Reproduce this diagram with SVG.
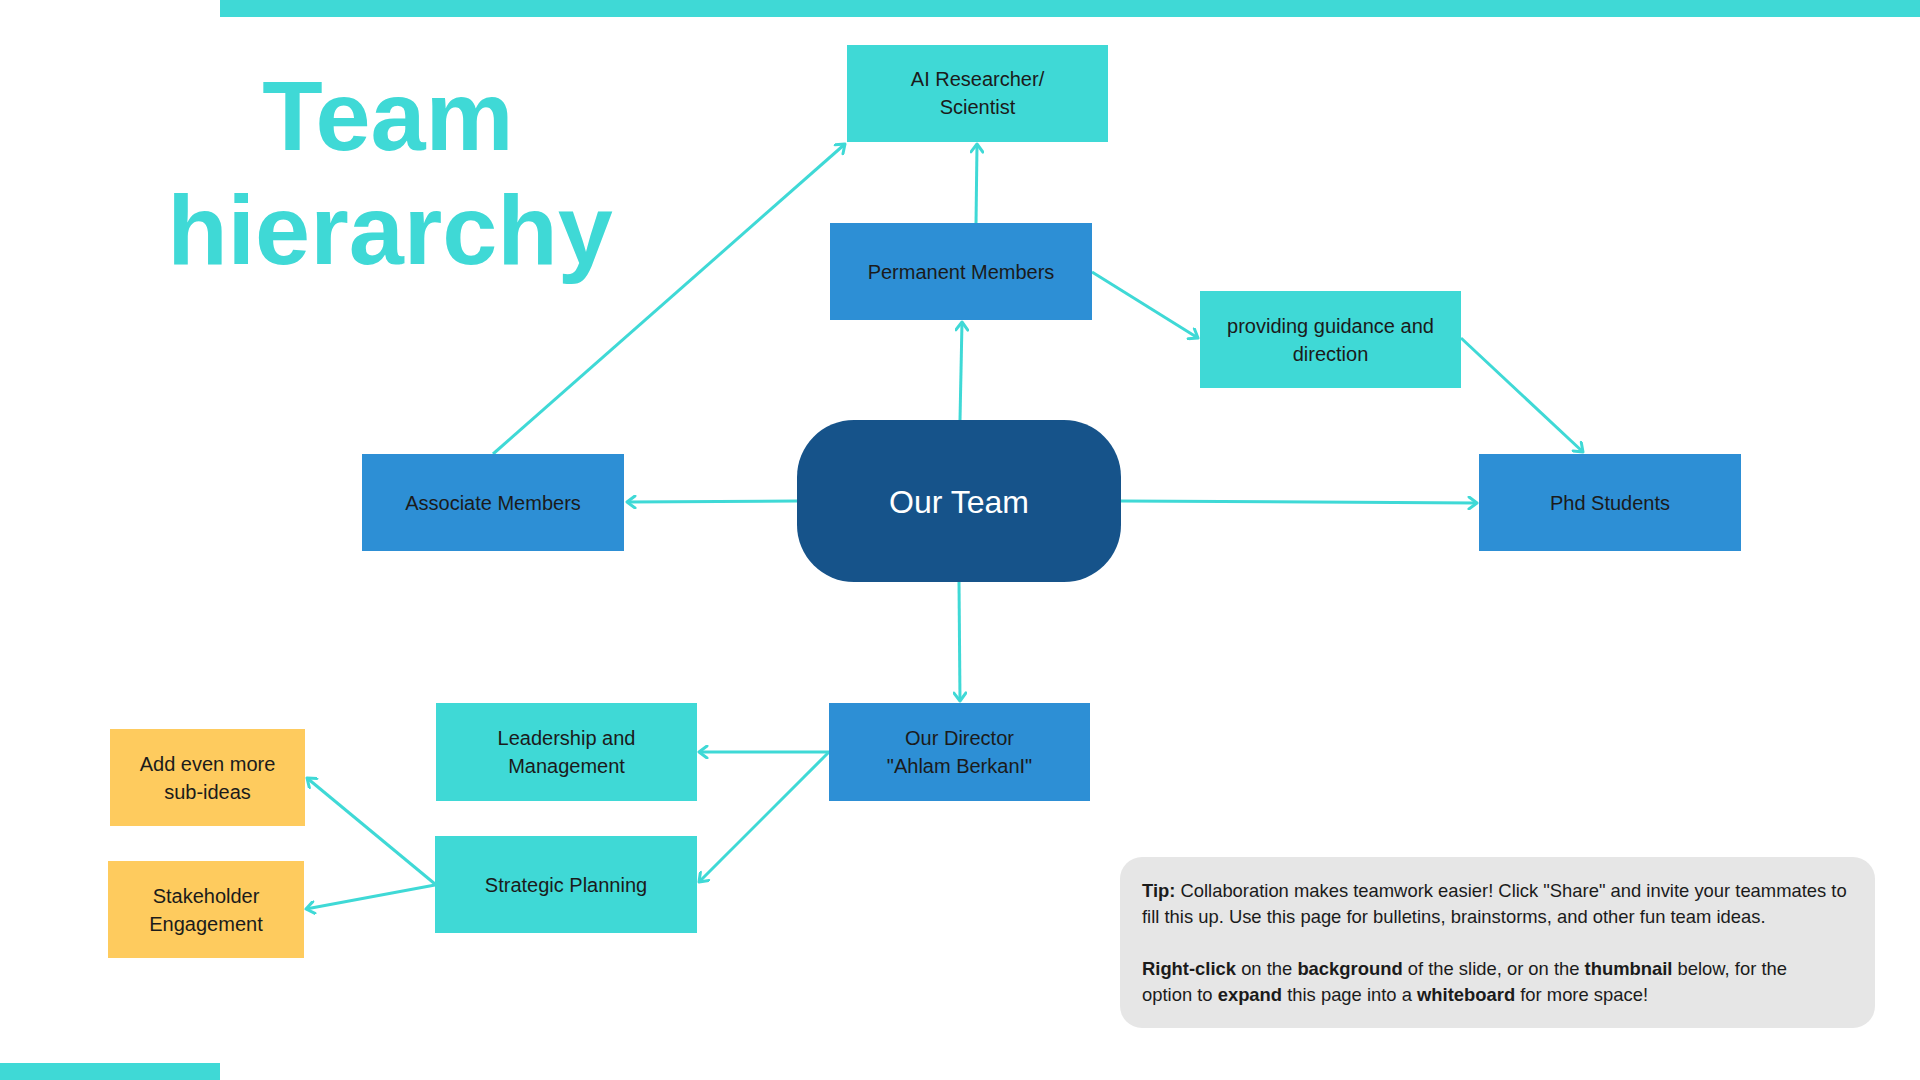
<svg xmlns="http://www.w3.org/2000/svg" width="1920" height="1080" viewBox="0 0 1920 1080">
  <defs>
    <style>
      .bg { fill: #ffffff; }
      .bar { fill: #3FD9D6; }
      .title { font-family: "Liberation Sans", Arial, sans-serif; font-weight: bold; font-size: 99px; fill: #3FD9D6; text-anchor: middle; }
      .teal { fill: #3FD9D6; }
      .blue { fill: #2D8FD5; }
      .navy { fill: #16538A; }
      .yellow { fill: #FECB5E; }
      .tipbox { fill: #E6E6E6; }
      .lbl { font-family: "Liberation Sans", Arial, sans-serif; font-size: 20px; fill: #1B1B1B; text-anchor: middle; }
      .big { font-family: "Liberation Sans", Arial, sans-serif; font-size: 32px; fill: #ffffff; text-anchor: middle; }
      .tip { font-family: "Liberation Sans", Arial, sans-serif; font-size: 18.4px; fill: #1B1B1B; }
      .b { font-weight: bold; }
      .conn { stroke: #3FD9D6; stroke-width: 3; fill: none; marker-end: url(#arrow); }
    </style>
    <marker id="arrow" markerUnits="userSpaceOnUse" viewBox="0 0 12 14" markerWidth="12" markerHeight="14" refX="10" refY="7" orient="auto">
      <path d="M2,1 L10,7 L2,13" fill="none" stroke="#3FD9D6" stroke-width="3" stroke-linecap="round" stroke-linejoin="round"/>
    </marker>
  </defs>

  <rect class="bg" x="0" y="0" width="1920" height="1080"/>
  <rect class="bar" x="220" y="0" width="1700" height="17"/>
  <rect class="bar" x="0" y="1063" width="220" height="17"/>

  <g id="title">
    <text class="title" x="388" y="150">Team</text>
    <text class="title" x="390" y="264">hierarchy</text>
  </g>

  <g id="connectors">
    <line class="conn" x1="960" y1="420" x2="962" y2="322"/>
    <line class="conn" x1="976" y1="224" x2="977" y2="144"/>
    <line class="conn" x1="1092" y1="272" x2="1198" y2="338"/>
    <line class="conn" x1="1461" y1="338" x2="1583" y2="452"/>
    <line class="conn" x1="1121" y1="501" x2="1477" y2="503"/>
    <line class="conn" x1="797" y1="501" x2="627" y2="502"/>
    <line class="conn" x1="493" y1="454" x2="845" y2="144"/>
    <line class="conn" x1="959" y1="582" x2="960" y2="701"/>
    <line class="conn" x1="829" y1="752" x2="699" y2="752"/>
    <line class="conn" x1="829" y1="752" x2="699" y2="882"/>
    <line class="conn" x1="435" y1="884" x2="307" y2="778"/>
    <line class="conn" x1="435" y1="885" x2="306" y2="909"/>
  </g>

  <g id="node-ai-researcher">
    <rect class="teal" x="847" y="45" width="261" height="97"/>
    <text class="lbl" x="977.5" y="86">AI Researcher/</text>
    <text class="lbl" x="977.5" y="114">Scientist</text>
  </g>

  <g id="node-permanent-members">
    <rect class="blue" x="830" y="223" width="262" height="97"/>
    <text class="lbl" x="961" y="278.5">Permanent Members</text>
  </g>

  <g id="node-guidance">
    <rect class="teal" x="1200" y="291" width="261" height="97"/>
    <text class="lbl" x="1330.5" y="332.5">providing guidance and</text>
    <text class="lbl" x="1330.5" y="360.5">direction</text>
  </g>

  <g id="node-associate-members">
    <rect class="blue" x="362" y="454" width="262" height="97"/>
    <text class="lbl" x="493" y="509.5">Associate Members</text>
  </g>

  <g id="node-our-team">
    <rect class="navy" x="797" y="420" width="324" height="162" rx="57" ry="57"/>
    <text class="big" x="959" y="513">Our Team</text>
  </g>

  <g id="node-phd-students">
    <rect class="blue" x="1479" y="454" width="262" height="97"/>
    <text class="lbl" x="1610" y="509.5">Phd Students</text>
  </g>

  <g id="node-director">
    <rect class="blue" x="829" y="703" width="261" height="98"/>
    <text class="lbl" x="959.5" y="745">Our Director</text>
    <text class="lbl" x="959.5" y="773">"Ahlam BerkanI"</text>
  </g>

  <g id="node-leadership">
    <rect class="teal" x="436" y="703" width="261" height="98"/>
    <text class="lbl" x="566.5" y="745">Leadership and</text>
    <text class="lbl" x="566.5" y="773">Management</text>
  </g>

  <g id="node-strategic-planning">
    <rect class="teal" x="435" y="836" width="262" height="97"/>
    <text class="lbl" x="566" y="891.5">Strategic Planning</text>
  </g>

  <g id="node-sub-ideas">
    <rect class="yellow" x="110" y="729" width="195" height="97"/>
    <text class="lbl" x="207.5" y="770.5">Add even more</text>
    <text class="lbl" x="207.5" y="798.5">sub-ideas</text>
  </g>

  <g id="node-stakeholder">
    <rect class="yellow" x="108" y="861" width="196" height="97"/>
    <text class="lbl" x="206" y="902.5">Stakeholder</text>
    <text class="lbl" x="206" y="930.5">Engagement</text>
  </g>

  <g id="tip">
    <rect class="tipbox" x="1120" y="857" width="755" height="171" rx="22" ry="22"/>
    <text class="tip" x="1142" y="897"><tspan class="b">Tip:</tspan> Collaboration makes teamwork easier! Click "Share" and invite your teammates to</text>
    <text class="tip" x="1142" y="923">fill this up. Use this page for bulletins, brainstorms, and other fun team ideas.</text>
    <text class="tip" x="1142" y="975"><tspan class="b">Right-click</tspan> on the <tspan class="b">background</tspan> of the slide, or on the <tspan class="b">thumbnail</tspan> below, for the</text>
    <text class="tip" x="1142" y="1001">option to <tspan class="b">expand</tspan> this page into a <tspan class="b">whiteboard</tspan> for more space!</text>
  </g>
</svg>
